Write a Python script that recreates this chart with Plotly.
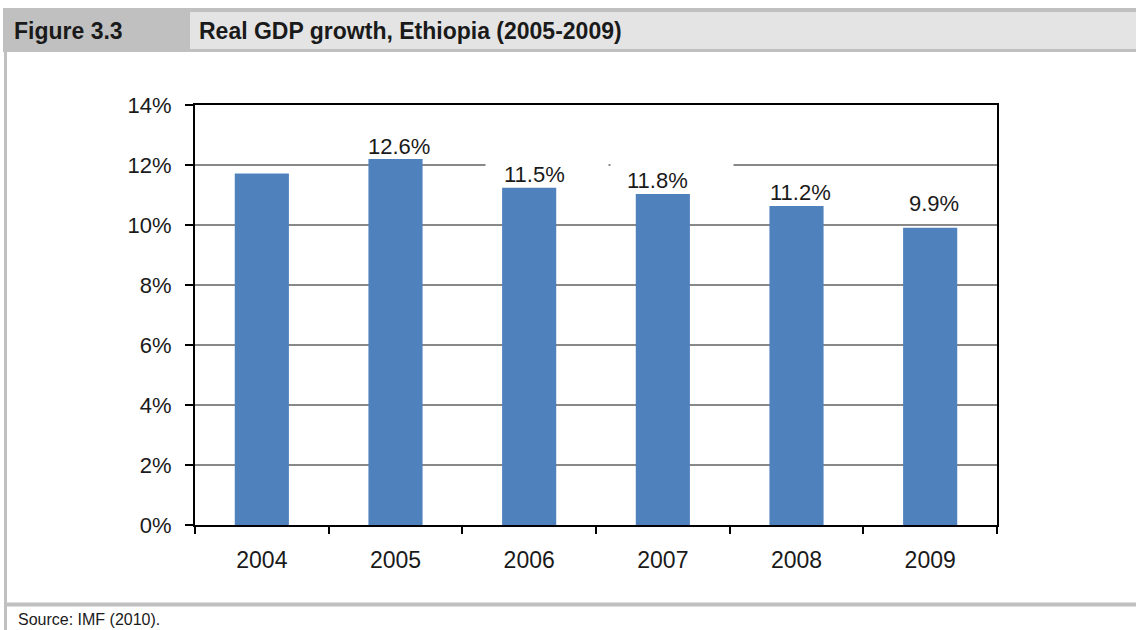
import plotly.graph_objects as go

# ---- data ----
years = ["2004", "2005", "2006", "2007", "2008", "2009"]
growth = [11.72, 12.2, 11.24, 11.03, 10.63, 9.91]          # bar heights (%)
labels = ["", "12.6%", "11.5%", "11.8%", "11.2%", "9.9%"]  # printed data labels
y_ticks = [0, 2, 4, 6, 8, 10, 12, 14]
y_ticklabels = ["0%", "2%", "4%", "6%", "8%", "10%", "12%", "14%"]

fig_title_num = "Figure 3.3"
fig_title = "Real GDP growth, Ethiopia (2005-2009)"
source = "Source: IMF (2010)."

# ---- style ----
W, H = 1136, 630
L, R, T, B = 195, 997, 105, 525
BAR = "#4F81BD"
GREY = "#c0c0c0"
LIGHT = "#e4e4e4"
TXT = "#1a1a1a"
FONT = "Liberation Sans"

label_xshift = [0, 3, 5, -5, 4, 4]
label_yshift = [0, -2, -1, -1, -1, 10]
mask_labels = [False, False, True, True, False, False]
mask_xshift = [0, 0, 18, 9, 0, 0]
mask_yshift = [0, 0, 8, 14, 0, 0]


def px(x):
    return (x - L) / (R - L)


def py(y):
    return (B - y) / (B - T)


fig = go.Figure()
fig.add_trace(go.Bar(
    x=years, y=growth, marker=dict(color=BAR, line=dict(width=0)),
    hoverinfo="skip",
))

annotations = []
# category index = position on the category axis
for i, (yr, v, lab) in enumerate(zip(years, growth, labels)):
    if mask_labels[i]:
        annotations.append(dict(
            x=i, y=v, xref="x", yref="y", text=" ", showarrow=False,
            width=122, height=22, bgcolor="white", borderpad=0,
            xanchor="center", yanchor="bottom",
            xshift=mask_xshift[i], yshift=mask_yshift[i],
        ))
for i, (yr, v, lab) in enumerate(zip(years, growth, labels)):
    if lab:
        annotations.append(dict(
            x=i, y=v, xref="x", yref="y", text=lab, showarrow=False,
            font=dict(family=FONT, size=22, color=TXT),
            xanchor="center", yanchor="bottom",
            xshift=label_xshift[i], yshift=label_yshift[i],
        ))

# header texts and source
annotations.append(dict(
    x=px(12), y=py(31), xref="paper", yref="paper", text="<b>" + fig_title_num + "</b>",
    showarrow=False, xanchor="left", yanchor="middle",
    font=dict(family=FONT, size=23, color=TXT),
))
annotations.append(dict(
    x=px(197), y=py(31), xref="paper", yref="paper", text="<b>" + fig_title + "</b>",
    showarrow=False, xanchor="left", yanchor="middle",
    font=dict(family=FONT, size=23, color=TXT),
))
annotations.append(dict(
    x=px(16), y=py(619), xref="paper", yref="paper", text=source,
    showarrow=False, xanchor="left", yanchor="middle",
    font=dict(family=FONT, size=16, color=TXT),
))

shapes = [
    # header band
    dict(type="rect", xref="paper", yref="paper", x0=px(3), x1=px(W + 5),
         y0=py(52), y1=py(8), fillcolor=GREY, line=dict(width=0), layer="below"),
    dict(type="rect", xref="paper", yref="paper", x0=px(190), x1=px(W + 5),
         y0=py(49), y1=py(12), fillcolor=LIGHT, line=dict(width=0), layer="below"),
    # left border
    dict(type="rect", xref="paper", yref="paper", x0=px(4), x1=px(7),
         y0=py(H + 5), y1=py(52), fillcolor=GREY, line=dict(width=0), layer="below"),
    # bottom rule
    dict(type="rect", xref="paper", yref="paper", x0=px(4), x1=px(W + 5),
         y0=py(606.5), y1=py(602.5), fillcolor=GREY, line=dict(width=0), layer="below"),
]

fig.update_layout(
    width=W, height=H,
    margin=dict(l=L, r=W - R, t=T, b=H - B, pad=0, autoexpand=False),
    paper_bgcolor="white", plot_bgcolor="white",
    showlegend=False, bargap=0.595,
    annotations=annotations, shapes=shapes,
    font=dict(family=FONT, color=TXT),
)
fig.update_xaxes(
    type="category", categoryorder="array", categoryarray=years,
    range=[-0.5, len(years) - 0.5], tickson="boundaries",
    ticks="outside", ticklen=7, tickwidth=2, tickcolor="black",
    showline=True, linecolor="black", linewidth=2, mirror=True,
    showgrid=False, ticklabelstandoff=13, automargin=False, tickangle=0,
    tickfont=dict(family=FONT, size=23, color=TXT),
)
fig.update_yaxes(
    range=[0, 14], tickvals=y_ticks, ticktext=y_ticklabels,
    ticks="outside", ticklen=8, tickwidth=2, tickcolor="black",
    showline=True, linecolor="black", linewidth=2, mirror=True,
    showgrid=True, gridcolor="#888888", gridwidth=1.5,
    zeroline=False, ticklabelstandoff=9, automargin=False,
    tickfont=dict(family=FONT, size=22, color=TXT),
)

fig.write_html(
    "out.html",
    config={"displayModeBar": False},
    post_script="document.body.style.margin='0';document.body.style.overflow='hidden';",
)
